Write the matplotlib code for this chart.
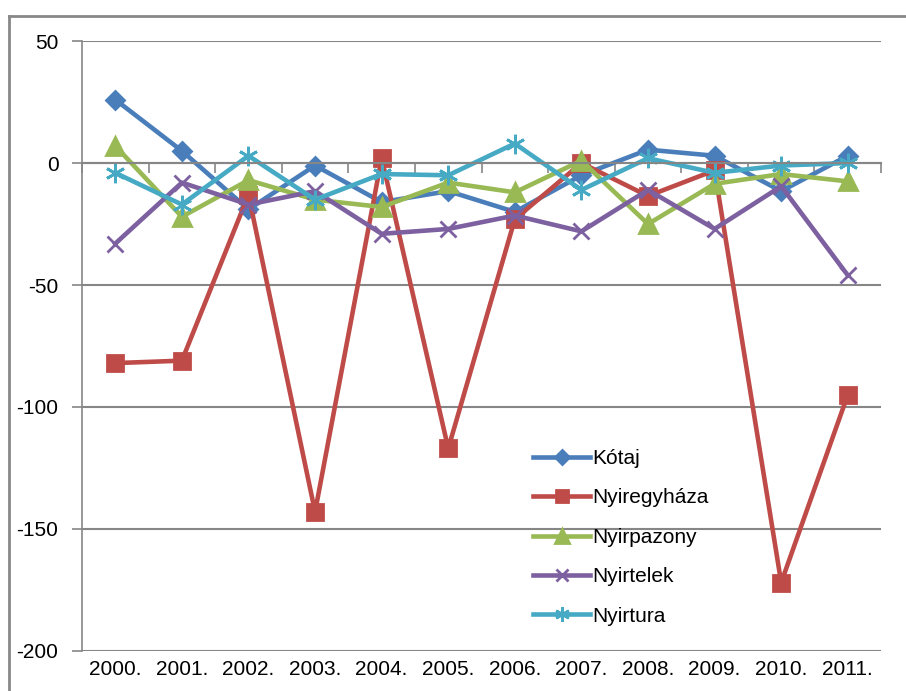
import matplotlib
matplotlib.use("Agg")
import matplotlib.pyplot as plt
from matplotlib.lines import Line2D
import matplotlib.transforms as mtransforms

plt.rcParams['font.family'] = ['Liberation Sans Narrow', 'Liberation Sans', 'DejaVu Sans']

years = ["2000.", "2001.", "2002.", "2003.", "2004.", "2005.",
         "2006.", "2007.", "2008.", "2009.", "2010.", "2011."]

kotaj = [26, 5, -19, -1, -16, -11.5, -20, -5, 5.5, 3, -11.5, 3]
nyiregyhaza = [-82, -81, -13, -143, 2, -117, -23, 0, -13.5, -3, -172, -95]
nyirpazony = [7, -22, -7, -15, -18, -8, -12, 1, -25, -8.5, -4.5, -7.5]
nyirtelek = [-33, -8, -17, -11.5, -29, -27, -21.5, -28, -11, -27, -9.5, -46]
nyirtura = [-4, -17, 3, -15, -4.5, -5, 8, -11, 2, -4, -1, 0]

series = [
    ("Kótaj", kotaj, "#4A7EBB", "D", 9),
    ("Nyiregyháza", nyiregyhaza, "#BE4B48", "s", 12),
    ("Nyirpazony", nyirpazony, "#98B954", "^", 13),
    ("Nyirtelek", nyirtelek, "#7D60A0", "x", 11),
    ("Nyirtura", nyirtura, "#46AAC5", (6, 2, 0), 14),
]

fs = 15

fig = plt.figure(figsize=(9.06, 6.91), dpi=100)
ax = fig.add_axes([0.0905, 0.058, 0.882, 0.8825])

x = list(range(len(years)))
for name, vals, color, marker, ms in series:
    ax.plot(x, vals, color=color, lw=3.3, marker=marker, markersize=ms,
            markeredgecolor=color, markerfacecolor=color, markeredgewidth=2,
            label=name, solid_joinstyle='round')

grid = "#868686"
ax.set_xlim(-0.5, len(years) - 0.5)
ax.set_ylim(-200, 50)
ax.set_yticks([50, 0, -50, -100, -150, -200])
ax.set_yticklabels(["50", "0", "-50", "-100", "-150", "-200"])
ax.tick_params(axis='y', length=7, width=1.2, color=grid, pad=10, labelsize=fs)
ax.yaxis.grid(True, color=grid, lw=1.5)
ax.set_axisbelow(True)

# category axis crosses at zero, tick marks between categories
ax.spines['bottom'].set_position(('data', 0))
ax.spines['bottom'].set_color(grid)
ax.spines['bottom'].set_linewidth(1.5)
ax.spines['left'].set_color(grid)
ax.spines['left'].set_linewidth(1.2)
ax.spines['top'].set_visible(False)
ax.spines['right'].set_visible(False)
ax.set_xticks([i - 0.5 for i in range(len(years) + 1)])
ax.set_xticklabels([])
ax.tick_params(axis='x', length=7, width=1.2, color=grid, direction='out')

trans = mtransforms.blended_transform_factory(ax.transData, ax.transAxes)
for i, lab in enumerate(years):
    ax.text(i, -0.03, lab, transform=trans, ha='center', va='center', fontsize=fs)

leg = ax.legend(loc='upper left', bbox_to_anchor=(533 / 906, 1 - 449 / 691),
                bbox_transform=fig.transFigure, frameon=False, fontsize=fs,
                handlelength=2.75, handletextpad=0.1, labelspacing=0.98,
                borderpad=0, borderaxespad=0, markerscale=0.75)

# chart area border
fig.add_artist(Line2D([9 / 906, 9 / 906], [0, 1 - 16 / 691], transform=fig.transFigure,
                      color="#888888", lw=2))
fig.add_artist(Line2D([9 / 906, 1], [1 - 16 / 691, 1 - 16 / 691], transform=fig.transFigure,
                      color="#888888", lw=2))

fig.savefig("out.png", dpi=100)
